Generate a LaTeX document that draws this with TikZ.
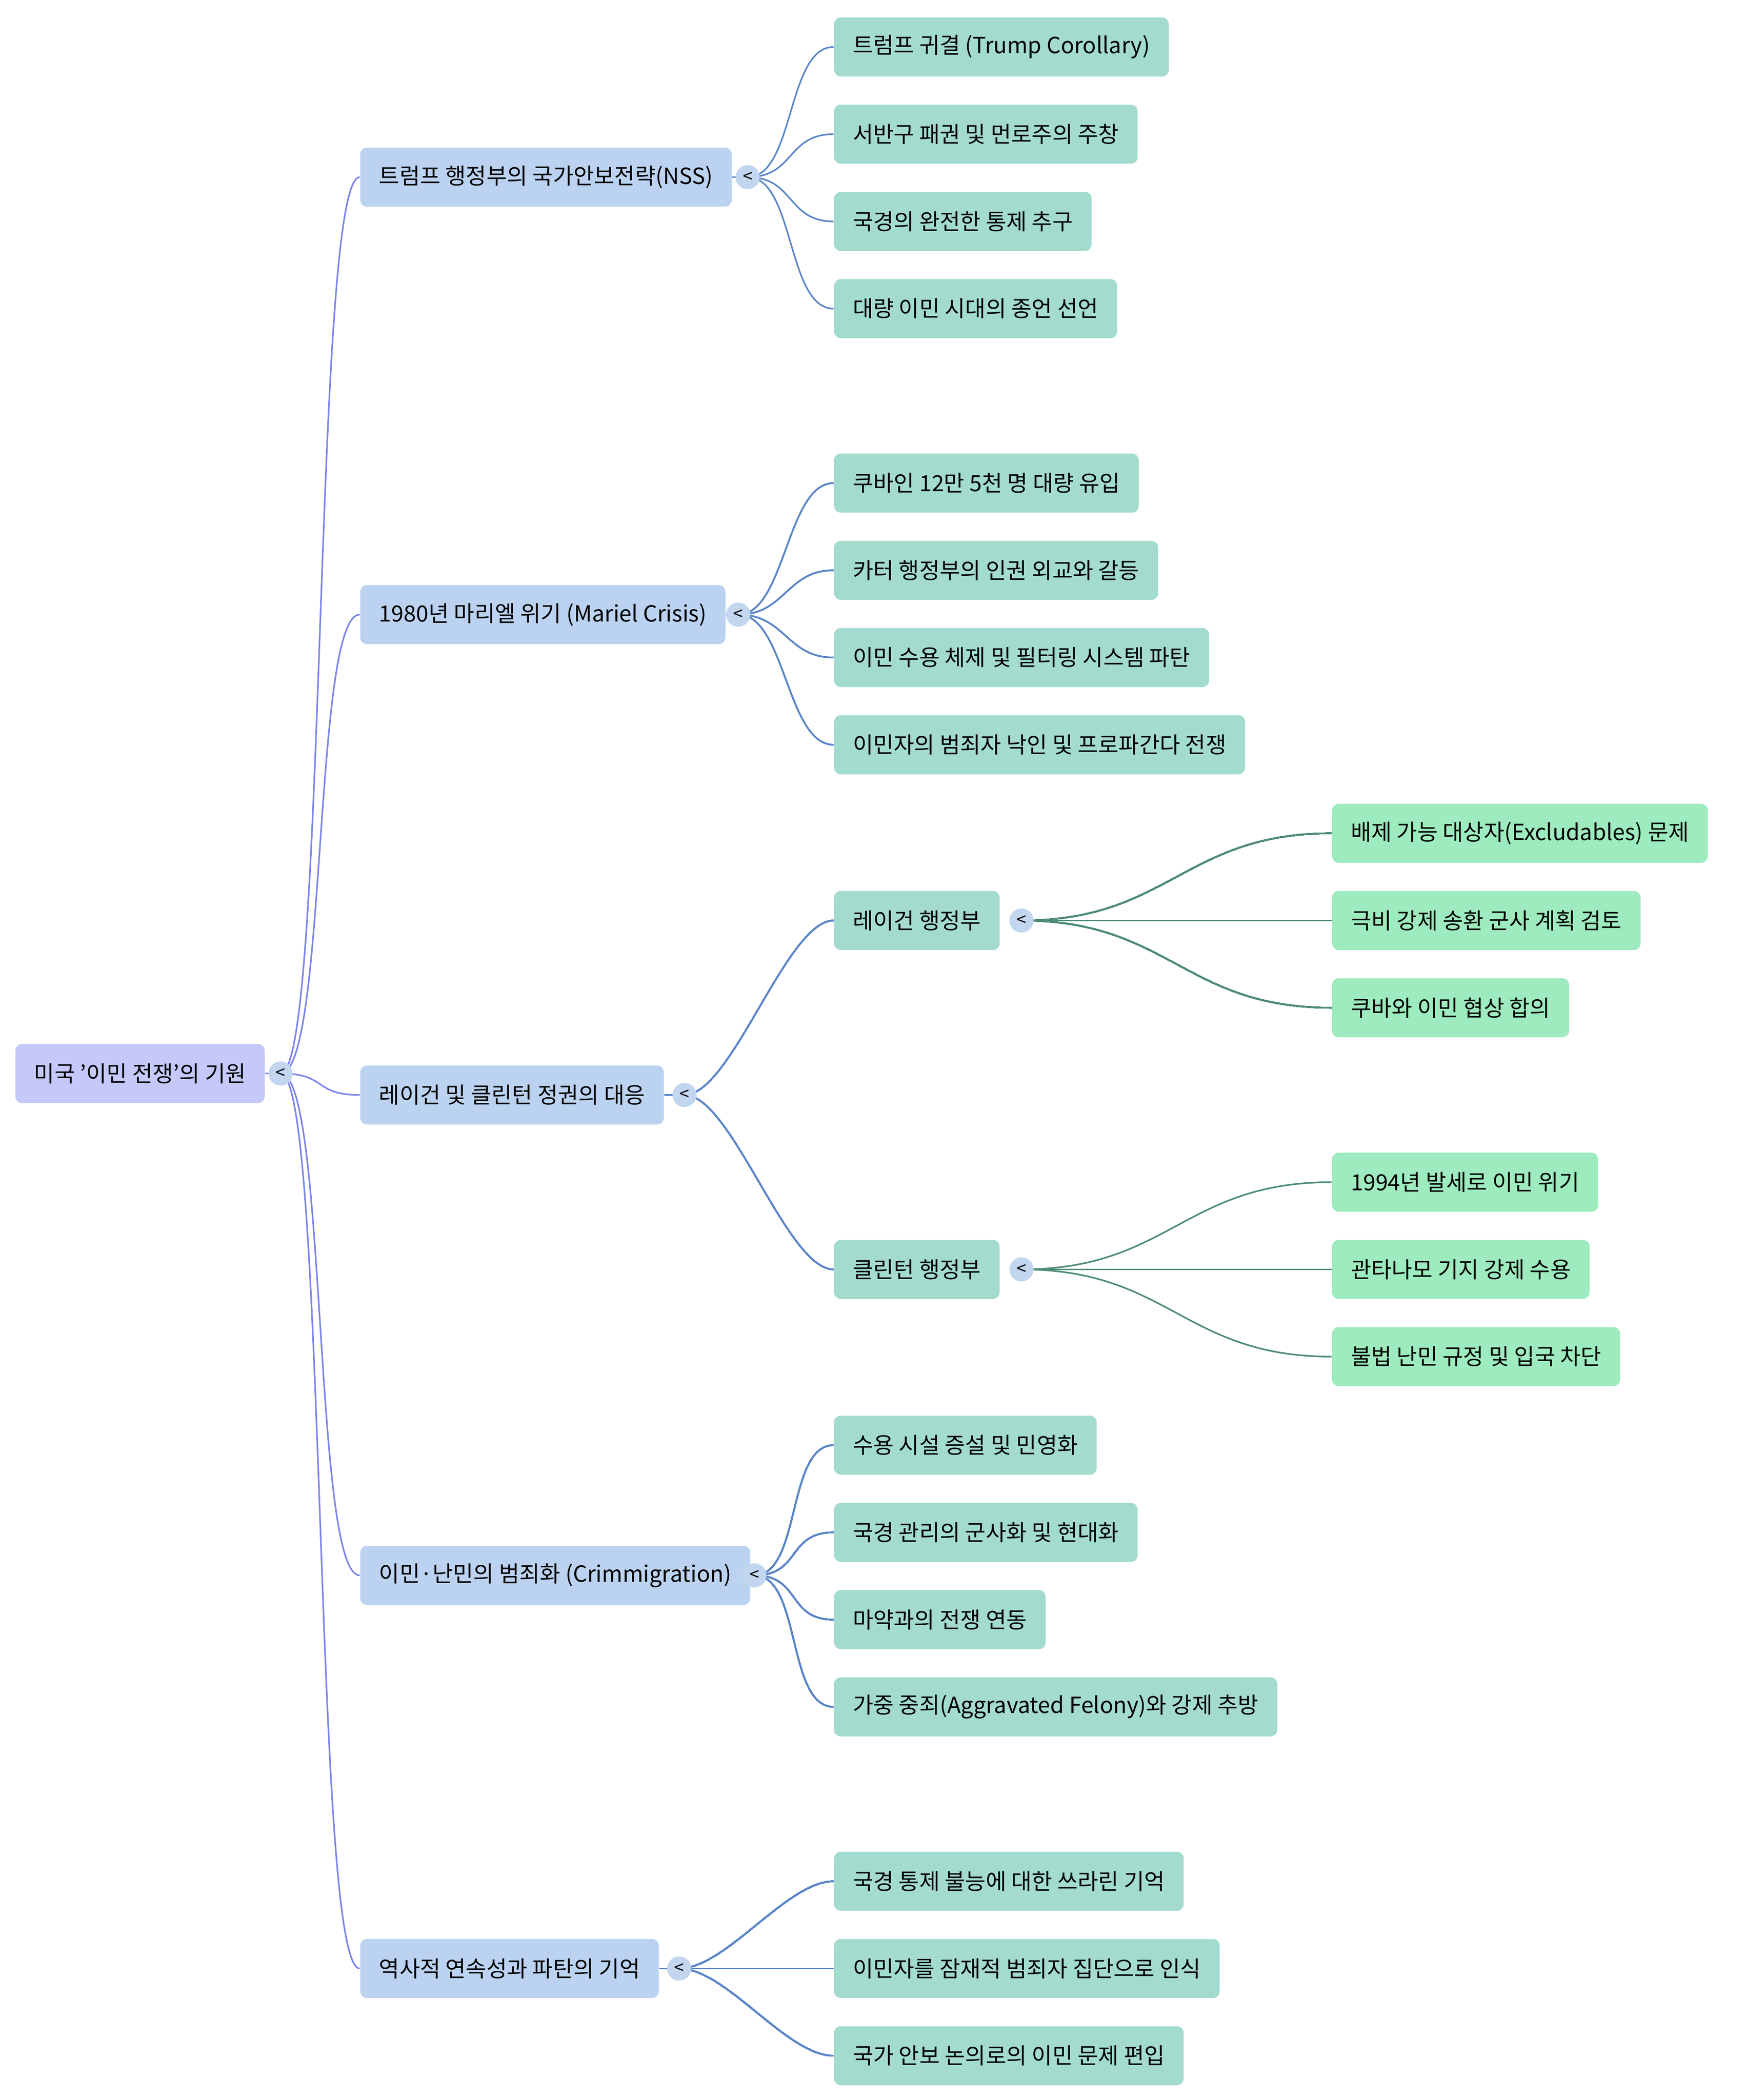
\documentclass[tikz,border=0pt]{standalone}
\usepackage{fontspec}
\setmainfont{Noto Sans CJK KR}
\usetikzlibrary{positioning}
\definecolor{rootfill}{HTML}{C4C9FA}
\definecolor{lonefill}{HTML}{BBD3F0}
\definecolor{ltwofill}{HTML}{A3DCCF}
\definecolor{lthreefill}{HTML}{9DEBBE}
\definecolor{rootedge}{HTML}{7C86EC}
\definecolor{loneedge}{HTML}{5B86C8}
\definecolor{ltwoedge}{HTML}{4E8C76}
\definecolor{togglefill}{HTML}{C3D6F0}
\tikzset{
  box/.style={rounded corners=2.5pt, anchor=west, minimum height=22pt, inner xsep=7pt, font=\fontsize{8.3}{10}\selectfont},
  rootbox/.style={box, fill=rootfill},
  onebox/.style={box, fill=lonefill},
  twobox/.style={box, fill=ltwofill},
  threebox/.style={box, fill=lthreefill},
  toggle/.style={circle, fill=togglefill, minimum size=9pt, inner sep=0pt, font=\fontsize{6.5}{7}\selectfont},
  link/.style={line width=0.6pt},
}
\newcommand{\branch}[3]{\draw[link, #1] (#2) .. controls +(35,0) and +(-35,0) .. (#3.west);}
\begin{document}
\begin{tikzpicture}[x=0.5pt, y=-0.5pt]
  \useasboundingbox (0,0) rectangle (1300,1565);
  % root
  \node[rootbox] (root) at (11,800) {미국 '이민 전쟁'의 기원};
  \coordinate (troot) at (209,800);
  % first level
  \node[onebox] (nss) at (268,132) {트럼프 행정부의 국가안보전략(NSS)};
  \node[onebox] (mariel) at (268,458) {1980년 마리엘 위기 (Mariel Crisis)};
  \node[onebox] (reply) at (268,816) {레이건 및 클린턴 정권의 대응};
  \node[onebox] (crim) at (268,1174) {이민·난민의 범죄화 (Crimmigration)};
  \node[onebox] (memory) at (268,1467) {역사적 연속성과 파탄의 기억};
  \coordinate (tnss) at (557,132);
  \coordinate (tmariel) at (550,458);
  \coordinate (treply) at (510,816);
  \coordinate (tcrim) at (562,1174);
  \coordinate (tmemory) at (506,1467);
  % second level
  \node[twobox] (nssa) at (621,35) {트럼프 귀결 (Trump Corollary)};
  \node[twobox] (nssb) at (621,100) {서반구 패권 및 먼로주의 주창};
  \node[twobox] (nssc) at (621,165) {국경의 완전한 통제 추구};
  \node[twobox] (nssd) at (621,230) {대량 이민 시대의 종언 선언};
  \node[twobox] (mara) at (621,360) {쿠바인 12만 5천 명 대량 유입};
  \node[twobox] (marb) at (621,425) {카터 행정부의 인권 외교와 갈등};
  \node[twobox] (marc) at (621,490) {이민 수용 체제 및 필터링 시스템 파탄};
  \node[twobox] (mard) at (621,555) {이민자의 범죄자 낙인 및 프로파간다 전쟁};
  \node[twobox] (reagan) at (621,686) {레이건 행정부};
  \node[twobox] (clinton) at (621,946) {클린턴 행정부};
  \node[twobox] (crima) at (621,1077) {수용 시설 증설 및 민영화};
  \node[twobox] (crimb) at (621,1142) {국경 관리의 군사화 및 현대화};
  \node[twobox] (crimc) at (621,1207) {마약과의 전쟁 연동};
  \node[twobox] (crimd) at (621,1272) {가중 중죄(Aggravated Felony)와 강제 추방};
  \node[twobox] (mema) at (621,1402) {국경 통제 불능에 대한 쓰라린 기억};
  \node[twobox] (memb) at (621,1467) {이민자를 잠재적 범죄자 집단으로 인식};
  \node[twobox] (memc) at (621,1532) {국가 안보 논의로의 이민 문제 편입};
  \coordinate (treagan) at (761,686);
  \coordinate (tclinton) at (761,946);
  % third level
  \node[threebox] (reaa) at (992,621) {배제 가능 대상자(Excludables) 문제};
  \node[threebox] (reab) at (992,686) {극비 강제 송환 군사 계획 검토};
  \node[threebox] (reac) at (992,751) {쿠바와 이민 협상 합의};
  \node[threebox] (clia) at (992,881) {1994년 발세로 이민 위기};
  \node[threebox] (clib) at (992,946) {관타나모 기지 강제 수용};
  \node[threebox] (clic) at (992,1011) {불법 난민 규정 및 입국 차단};
  % connectors
  \begin{scope}[on background layer/.style={}]
    \draw[link, rootedge] (root.east) -- (troot);
    \foreach \n in {nss,mariel,reply,crim,memory}
      \branch{rootedge}{troot}{\n}
    \foreach \n in {nss,mariel,reply,crim,memory}
      \draw[link, loneedge] (\n.east) -- (t\n);
    \foreach \c in {nssa,nssb,nssc,nssd}
      \branch{loneedge}{tnss}{\c}
    \foreach \c in {mara,marb,marc,mard}
      \branch{loneedge}{tmariel}{\c}
    \foreach \c in {reagan,clinton}
      \branch{loneedge}{treply}{\c}
    \foreach \c in {crima,crimb,crimc,crimd}
      \branch{loneedge}{tcrim}{\c}
    \foreach \c in {mema,memb,memc}
      \branch{loneedge}{tmemory}{\c}
    \foreach \c in {reaa,reab,reac}
      \draw[link, ltwoedge] (treagan) .. controls +(110,0) and +(-110,0) .. (\c.west);
    \foreach \c in {clia,clib,clic}
      \draw[link, ltwoedge] (tclinton) .. controls +(110,0) and +(-110,0) .. (\c.west);
  \end{scope}
  % toggles
  \foreach \t in {troot,tnss,tmariel,treply,tcrim,tmemory,treagan,tclinton}
    \node[toggle] (k\t) at (\t) {<};
\end{tikzpicture}
\end{document}
